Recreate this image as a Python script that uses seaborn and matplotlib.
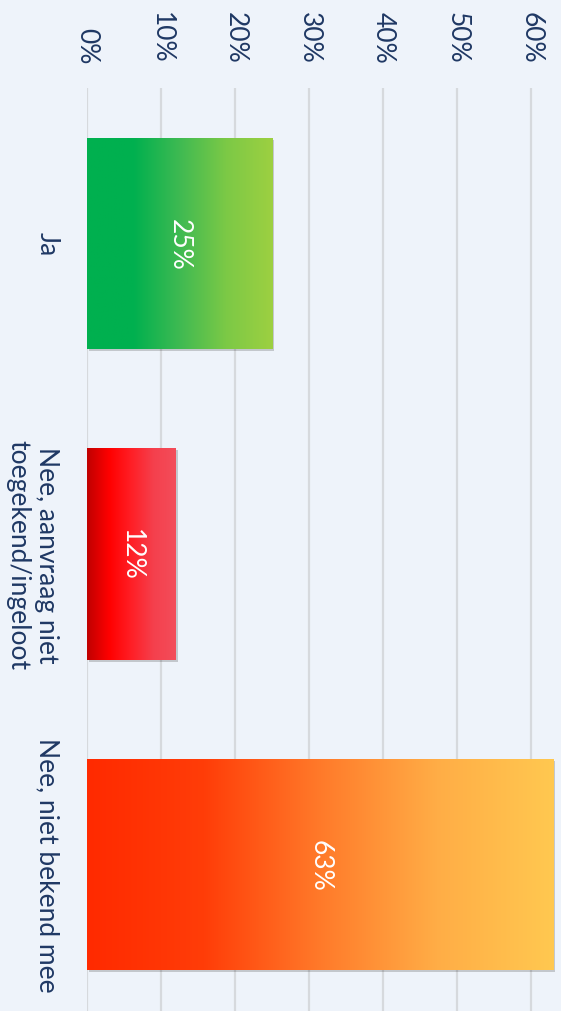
import numpy as np
import matplotlib
matplotlib.use("Agg")
import matplotlib.pyplot as plt
import matplotlib.patheffects as pe
from matplotlib.colors import LinearSegmentedColormap
import seaborn as sns

categories = ["Ja", "Nee, aanvraag niet\ntoegekend/ingeloot", "Nee, niet bekend mee"]
values = [25, 12, 63]
bar_labels = ["25%", "12%", "63%"]
tick_values = [0, 10, 20, 30, 40, 50, 60]
tick_labels = ["0%", "10%", "20%", "30%", "40%", "50%", "60%"]
gradients = [
    ["#00b04f", "#00b04f", "#3fba52", "#7cc946", "#9dd041"],
    ["#c00000", "#ff0000", "#ff1f26", "#f5404d", "#f34d5a"],
    ["#ff2a00", "#ff3d08", "#ff7a2a", "#ffad46", "#ffc850"],
]

BG = "#eef3fa"
NAVY = "#1f3864"

sns.set_theme(style="white")
plt.rcParams["font.family"] = ["Lato", "DejaVu Sans"]

fig = plt.figure(figsize=(5.61, 10.12), dpi=100, facecolor=BG)
ax = fig.add_axes([87 / 561, 0, (561 - 87) / 561, (1012 - 89) / 1012])
ax.set_facecolor(BG)

sns.barplot(x=values, y=categories, orient="h", ax=ax, width=0.68,
            color="#cccccc", saturation=1, edgecolor="none", zorder=3)

ax.set_xlim(0, 64.05)
ax.set_ylim(2.472, -0.5008)

for patch, stops, lab in zip(ax.patches, gradients, bar_labels):
    x0, y0 = patch.get_x(), patch.get_y()
    w, h = patch.get_width(), patch.get_height()
    patch.set_path_effects([pe.SimplePatchShadow(offset=(1.5, -1.5), shadow_rgbFace="#000000", alpha=0.18),
                            pe.Normal()])
    cmap = LinearSegmentedColormap.from_list("g", stops)
    grad = np.linspace(0, 1, 256).reshape(1, -1)
    im = ax.imshow(grad, extent=[x0, x0 + w, y0 + h, y0], aspect="auto",
                   cmap=cmap, zorder=4, interpolation="bilinear")
    im.set_clip_path(patch)
    ax.text(x0 + w / 2, y0 + h / 2, lab, rotation=-90, ha="center", va="center",
            color="white", fontsize=19, zorder=5)

ax.set_xlim(0, 64.05)
ax.set_ylim(2.472, -0.5008)

ax.set_xticks(tick_values)
ax.set_xticklabels(tick_labels, rotation=-90, fontsize=19, color=NAVY)
ax.xaxis.tick_top()
ax.tick_params(axis="x", length=0, pad=18)
ax.set_yticks(range(len(categories)))
ax.set_yticklabels(categories, rotation=-90, fontsize=19, color=NAVY,
                   va="center", ha="right", multialignment="center", linespacing=1.2)
ax.tick_params(axis="y", length=0, pad=20)
ax.set_xlabel("")
ax.set_ylabel("")

ax.grid(axis="x", color="#d6d9dd", linewidth=1.6, zorder=0)
ax.grid(axis="y", visible=False)
ax.set_axisbelow(True)
for s in ax.spines.values():
    s.set_visible(False)

fig.savefig("out.png", dpi=100, facecolor=BG)
